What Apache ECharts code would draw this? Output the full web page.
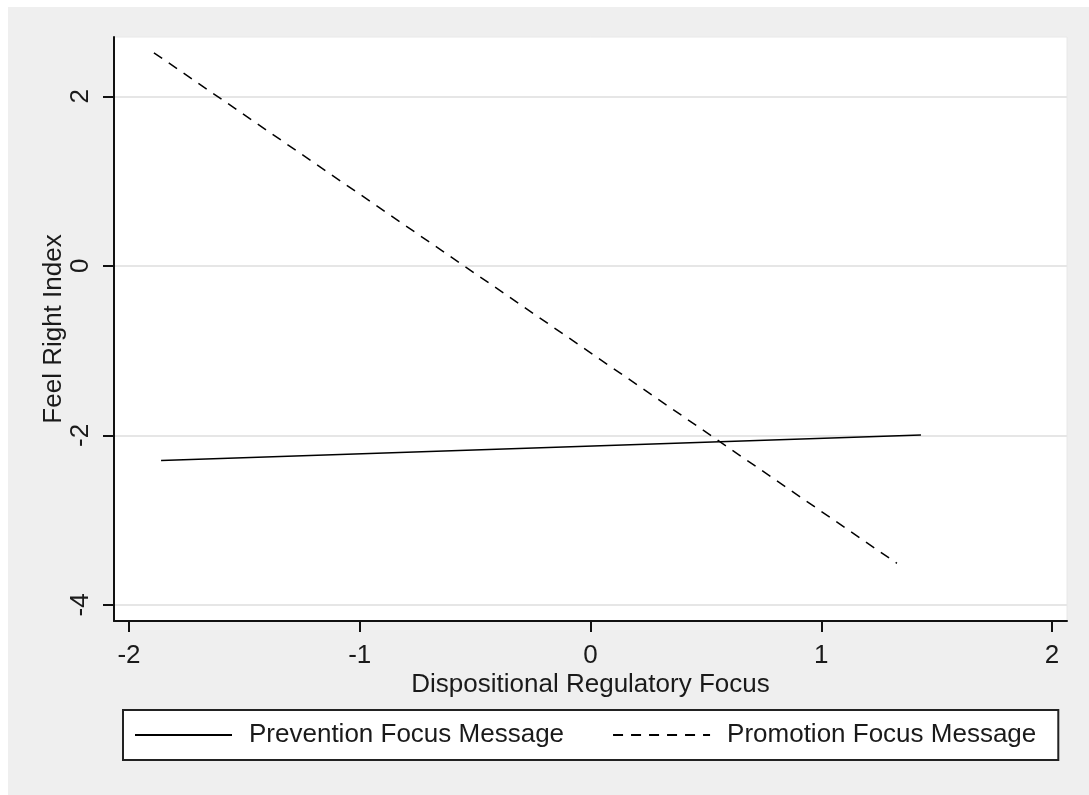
<!DOCTYPE html>
<html>
<head>
<meta charset="utf-8">
<script src="https://cdn.jsdelivr.net/npm/echarts@6/dist/echarts.min.js"></script>
<style>
    body { margin: 0; background: #fff; }
    .echart {
        position: absolute; left: 8px; top: 7px;
        width: 1081px; height: 788px; background: #efefef;
    }
</style>
</head>
<body>
<div id="main" class="echart"></div>
<script>
// 数据
var seriesNames = ['Prevention Focus Message', 'Promotion Focus Message'];
var preventionX = [-1.861, 1.432];
var preventionY = [-2.296, -1.996];
var promotionX = [-1.892, 1.328];
var promotionY = [2.514, -3.51];
var xTicks = [-2, -1, 0, 1, 2];
var yTicks = [-4, -2, 0, 2];

function pairs(xs, ys) {
    return xs.map(function (x, i) { return [x, ys[i]]; });
}

var font = 'Liberation Sans, Arial, sans-serif';
var textColor = '#1a1a1a';

var option = {
    animation: false,
    textStyle: { fontFamily: font, color: textColor },
    grid: {
        left: 106, top: 30, right: 22, bottom: 174,
        show: true, backgroundColor: '#fff', borderColor: '#e8e8e8', borderWidth: 1
    },
    legend: {
        data: seriesNames,
        left: 115, top: 703,
        orient: 'horizontal',
        itemWidth: 97, itemHeight: 14, itemGap: 48,
        padding: [12, 22, 12, 11],
        backgroundColor: '#fff',
        borderColor: '#222', borderWidth: 2,
        itemStyle: { opacity: 0 },   // 图例只画线，不画圆点
        textStyle: { fontSize: 26, color: textColor, fontFamily: font, padding: [0, 0, 0, 12] }
    },
    xAxis: {
        type: 'value',
        min: -2.065, max: 2.065,
        name: 'Dispositional Regulatory Focus',
        nameLocation: 'middle', nameGap: 51, nameMoveOverlap: false,
        nameTextStyle: { fontSize: 26, color: textColor, fontFamily: font },
        axisLine: { show: true, onZero: false, lineStyle: { color: '#111', width: 2 } },
        axisTick: { show: true, length: 11, customValues: xTicks, lineStyle: { color: '#111', width: 2 } },
        axisLabel: { customValues: xTicks, fontSize: 26, color: textColor, margin: 22 },
        splitLine: { show: false }
    },
    yAxis: {
        type: 'value',
        min: -4.19, max: 2.70,
        name: 'Feel Right Index',
        nameLocation: 'middle', nameGap: 47, nameMoveOverlap: false,
        nameTextStyle: { fontSize: 26, color: textColor, fontFamily: font },
        axisLine: { show: true, onZero: false, lineStyle: { color: '#111', width: 2 } },
        axisTick: { show: true, length: 11, customValues: yTicks, lineStyle: { color: '#111', width: 2 } },
        axisLabel: { customValues: yTicks, fontSize: 26, color: textColor, margin: 20, rotate: 90 },
        splitLine: { show: true, lineStyle: { color: '#e6e6e6', width: 2 } }
    },
    series: [
        {
            name: seriesNames[0],
            type: 'line',
            symbol: 'none',
            data: pairs(preventionX, preventionY),
            lineStyle: { color: '#000', width: 1.5, type: 'solid' },
            itemStyle: { color: '#000' }
        },
        {
            name: seriesNames[1],
            type: 'line',
            symbol: 'none',
            data: pairs(promotionX, promotionY),
            lineStyle: { color: '#000', width: 1.5, type: [10, 8] },
            itemStyle: { color: '#000' }
        }
    ]
};

var myChart = echarts.init(document.getElementById('main'));
myChart.setOption(option);
</script>
</body>
</html>
